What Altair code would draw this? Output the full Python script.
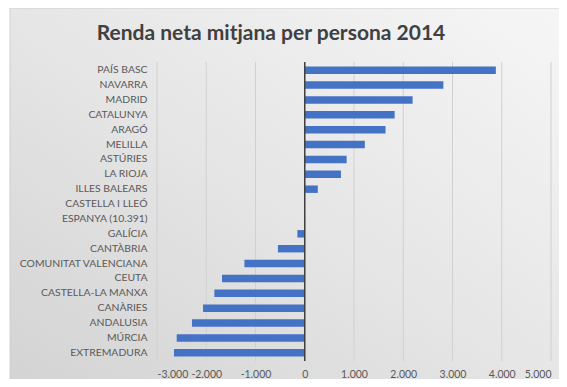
import altair as alt
import pandas as pd

regions = ["PAÍS BASC", "NAVARRA", "MADRID", "CATALUNYA", "ARAGÓ", "MELILLA",
           "ASTÚRIES", "LA RIOJA", "ILLES BALEARS", "CASTELLA I LLEÓ",
           "ESPANYA (10.391)", "GALÍCIA", "CANTÀBRIA", "COMUNITAT VALENCIANA",
           "CEUTA", "CASTELLA-LA MANXA", "CANÀRIES", "ANDALUSIA", "MÚRCIA",
           "EXTREMADURA"]
diffs = [3880, 2815, 2190, 1825, 1640, 1220, 850, 735, 265, 0,
         0, -150, -545, -1225, -1680, -1835, -2065, -2290, -2600, -2655]
ticks = [-3000, -2000, -1000, 0, 1000, 2000, 3000, 4000, 5000]
title = "Renda neta mitjana per persona 2014"

df = pd.DataFrame({"region": regions, "diff": diffs})
tick_df = pd.DataFrame({"t": ticks})

W, H = 394, 299
PL, PT, PR, PB = 149, 54, 8, 18
FONT = "Lato"

xscale = alt.Scale(domain=[-3000, 5000], nice=False)

bg = alt.Chart(alt.Data(values=[{}])).mark_rect(
    fill=alt.Gradient(
        gradient="linear",
        stops=[alt.GradientStop(color="#d3d3d3", offset=0),
               alt.GradientStop(color="#e6e6e6", offset=0.5),
               alt.GradientStop(color="#f6f6f6", offset=1)],
        x1=0, y1=1, x2=1, y2=0,
    ),
    stroke="#cfcfcf", strokeWidth=1,
).encode(x=alt.value(-PL + 2), x2=alt.value(W + PR + 5),
         y=alt.value(-PT), y2=alt.value(H + PB + 5))

grid = alt.Chart(tick_df).mark_rule(color="#d0d0d0", strokeWidth=1).encode(
    x=alt.X("t:Q", scale=xscale)
)

bars = alt.Chart(df).mark_bar(color="#4472C4").encode(
    x=alt.X("diff:Q", scale=xscale,
            axis=alt.Axis(values=ticks, grid=False, ticks=False, domain=False,
                          labelExpr="replace(replace(format(datum.value, ','), ',', '.'), '\u2212', '-')",
                          labelOverlap=False, labelBound=False,
                          labelPadding=8, labelFont=FONT, labelFontSize=10.5,
                          labelColor="#595959", title=None, zindex=1)),
    y=alt.Y("region:N", sort=regions,
            scale=alt.Scale(paddingInner=0.5, paddingOuter=0.3),
            axis=alt.Axis(grid=False, ticks=False, domain=False, labelPadding=10,
                          labelOverlap=False,
                          labelFont=FONT, labelFontSize=10.4, labelColor="#595959",
                          title=None, zindex=1)),
)

zero = alt.Chart(alt.Data(values=[{"z": 0}])).mark_rule(
    color="#404040", strokeWidth=1.5
).encode(x=alt.X("z:Q", scale=xscale))

ttl = alt.Chart(alt.Data(values=[{}])).mark_text(
    text=title, font=FONT, fontSize=21, fontWeight="bold", color="#404040",
    align="center", baseline="alphabetic"
).encode(x=alt.value(114), y=alt.value(-22))

chart = alt.layer(bg, grid, bars, zero, ttl).properties(
    width=W, height=H,
    autosize=alt.AutoSizeParams(type="none"),
    padding={"left": PL, "top": PT, "right": PR, "bottom": PB},
).configure(background="white").configure_view(stroke=None)

chart.save("out.html", embed_options={"renderer": "svg", "actions": False})
